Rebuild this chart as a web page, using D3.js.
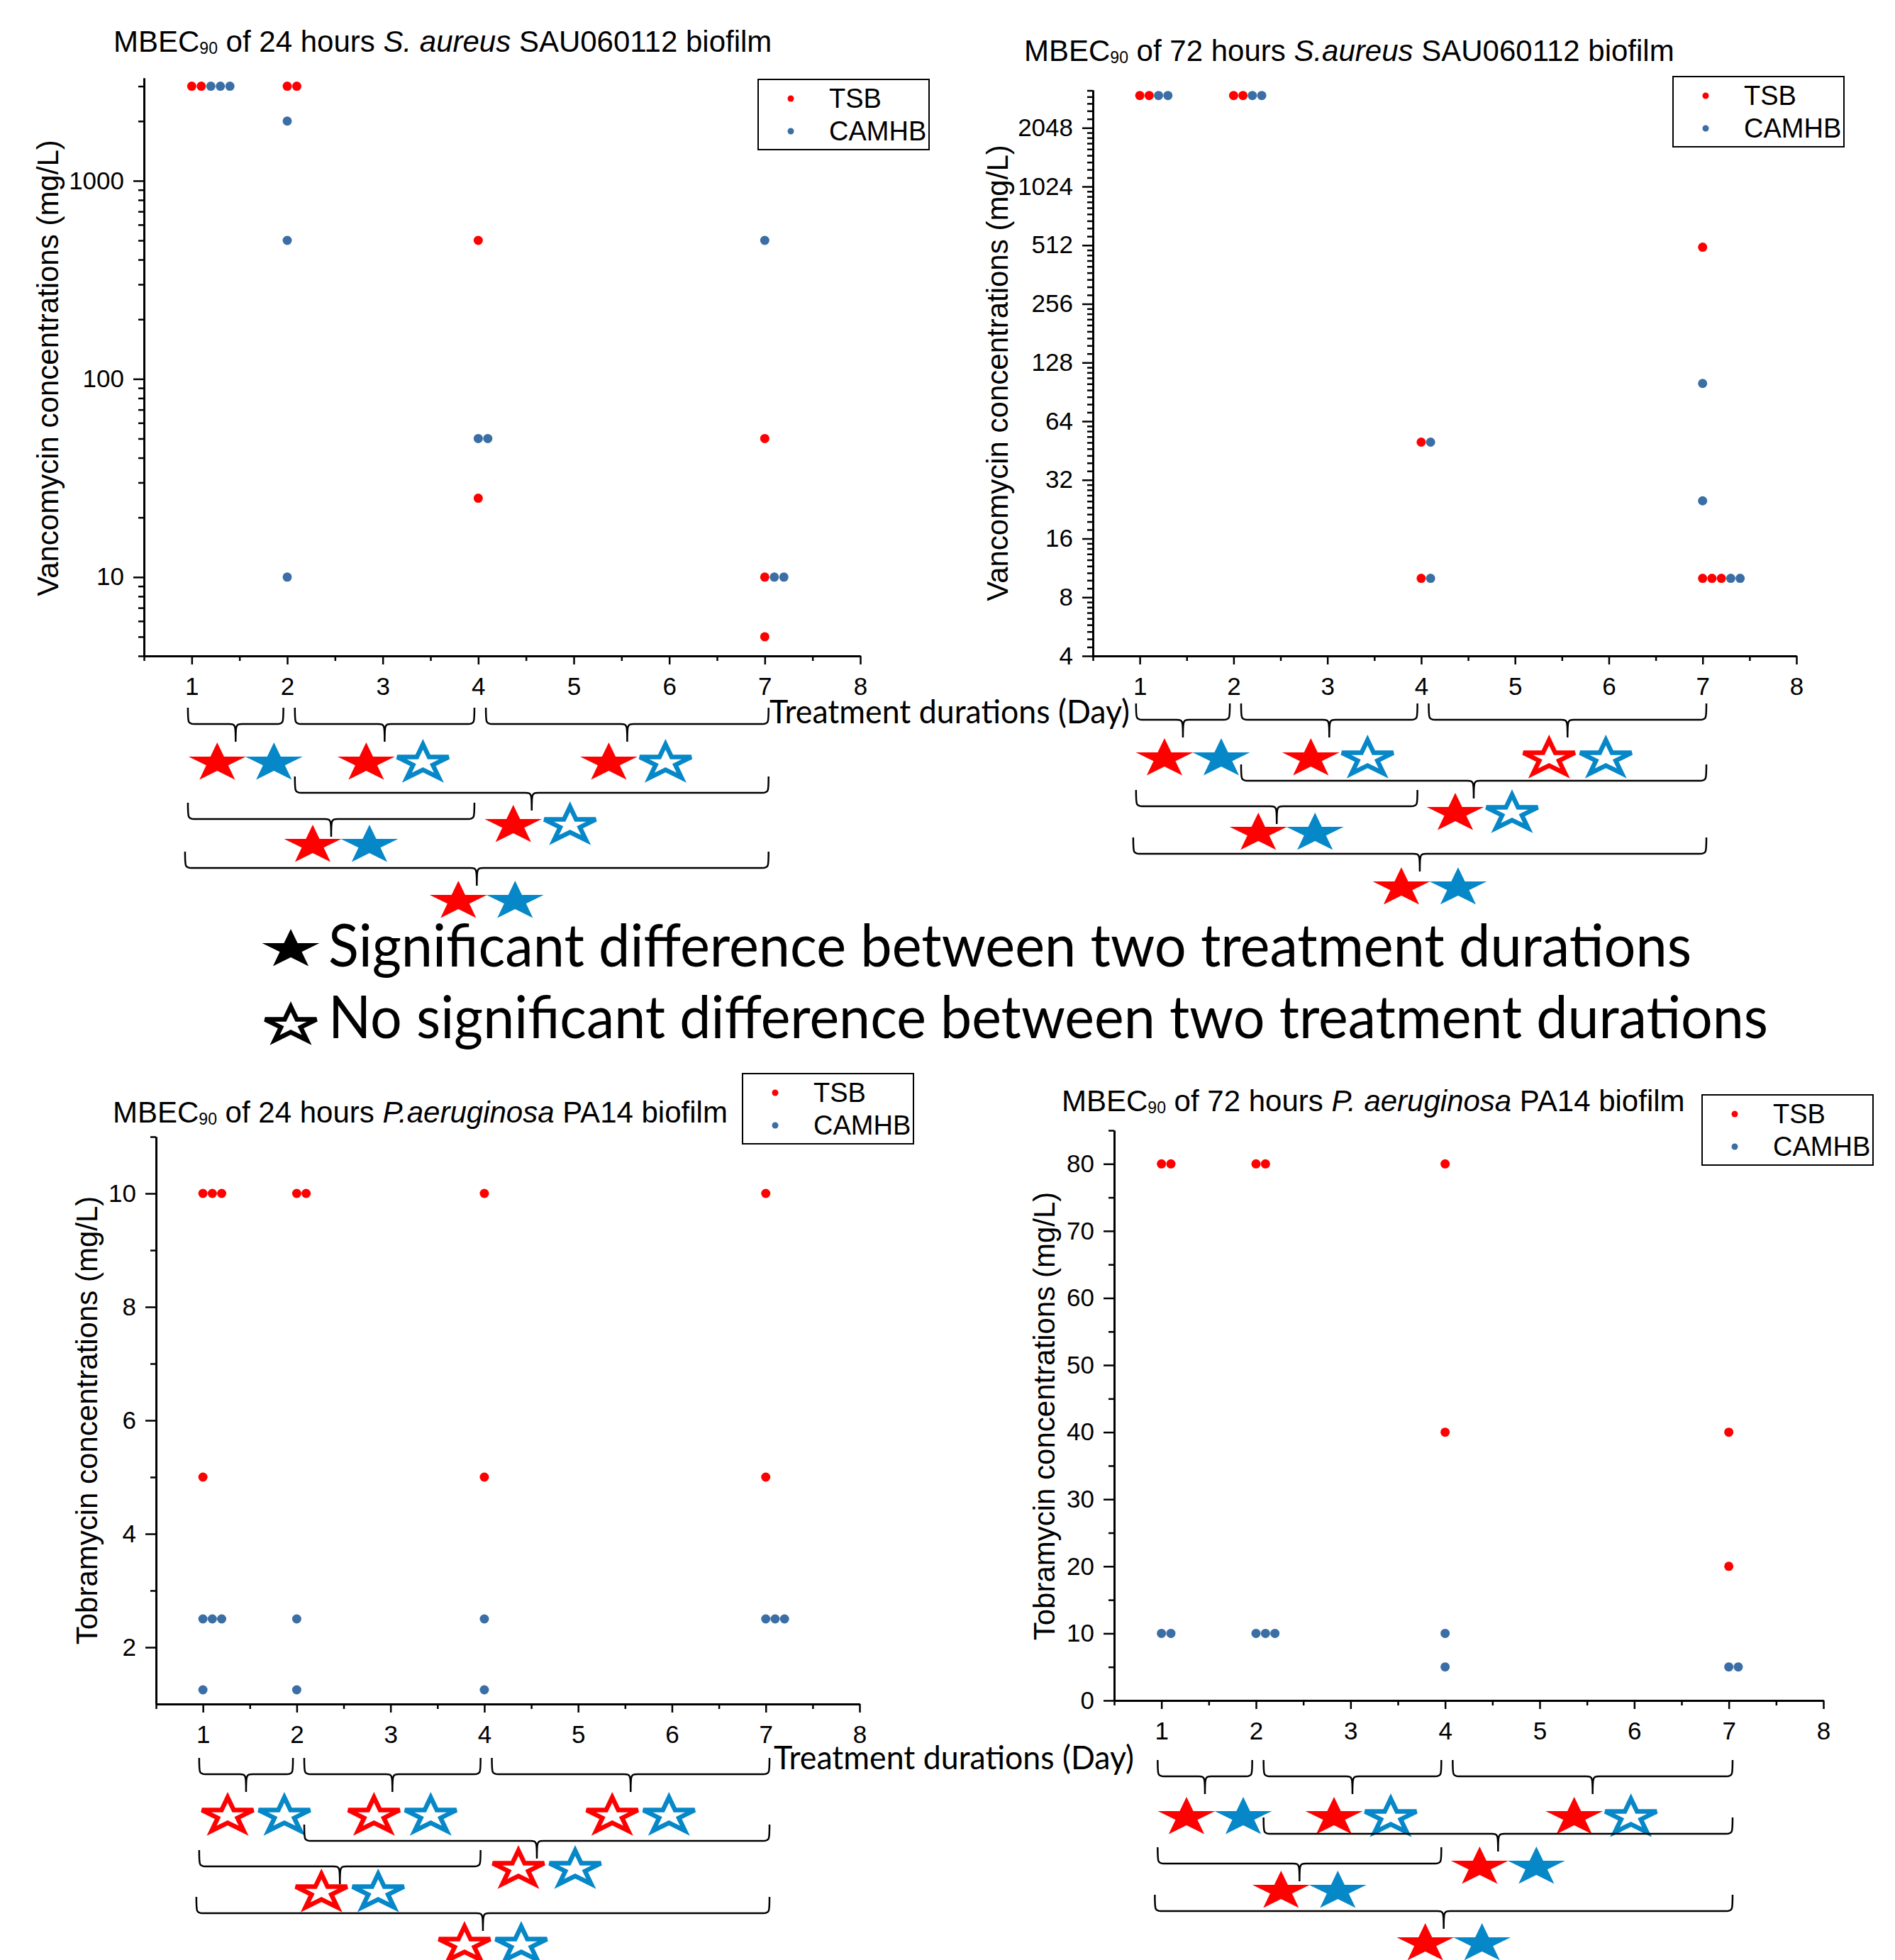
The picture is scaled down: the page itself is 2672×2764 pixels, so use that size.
<!DOCTYPE html>
<html>
<head>
<meta charset="utf-8">
<script src="https://cdn.jsdelivr.net/npm/d3@7"></script>
<style>
body { margin: 0; background: #fff; }
text { font-family: "Liberation Sans", Arial, sans-serif; fill: #000; white-space: pre; }
.cal { font-family: Lato, "Open Sans", sans-serif; }
</style>
</head>
<body>
<script>
// values: [treatment day (+0.1 per repeated point), concentration mg/L]
var saTsb24 = [[1,3000],[1.1,3000],[2,3000],[2.1,3000],[4,500],[4,25],[7,50],[7,10],[7,5]];
var saCamhb24 = [[1.2,3000],[1.3,3000],[1.4,3000],[2,2000],[2,500],[2,10],[4,50],[4.1,50],[7,500],[7.1,10],[7.2,10]];

var saTsb72 = [[1,3000],[1.1,3000],[2,3000],[2.1,3000],[4,50],[4,10],[7,500],[7,10],[7.1,10],[7.2,10]];
var saCamhb72 = [[1.2,3000],[1.3,3000],[2.2,3000],[2.3,3000],[4.1,50],[4.1,10],[7,100],[7,25],[7.3,10],[7.4,10]];

var paTsb24 = [[1,10],[1.1,10],[1.2,10],[1,5],[2,10],[2.1,10],[4,10],[4,5],[7,10],[7,5]];
var paCamhb24 = [[1,2.5],[1.1,2.5],[1.2,2.5],[1,1.25],[2,2.5],[2,1.25],[4,2.5],[4,1.25],[7,2.5],[7.1,2.5],[7.2,2.5]];

var paTsb72 = [[1,80],[1.1,80],[2,80],[2.1,80],[4,80],[4,40],[7,40],[7,20]];
var paCamhb72 = [[1,10],[1.1,10],[2,10],[2.1,10],[2.2,10],[4,10],[4,5],[7,5],[7.1,5]];

// tick labels
var dayTicks = [1,2,3,4,5,6,7,8];
var dayMinor = [0.5,1.5,2.5,3.5,4.5,5.5,6.5,7.5];
var vancoTicks24 = [10,100,1000];
var vancoTicks72 = [4,8,16,32,64,128,256,512,1024,2048];
var tobraTicks24 = [2,4,6,8,10];
var tobraMinor24 = [3,5,7,9,11];
var tobraTicks72 = [0,10,20,30,40,50,60,70,80];
var tobraMinor72 = [5,15,25,35,45,55,65,75,85];

// comparisons: [from day, to day, bracket row, TSB significant, CAMHB significant]
var saComp24 = [[1,2,0,true,true],[2,4,0,true,false],[4,7,0,true,false],[2,7,1,true,false],[1,4,2,true,true],[1,7,3,true,true]];
var saComp72 = [[1,2,0,true,true],[2,4,0,true,false],[4,7,0,false,false],[2,7,1,true,false],[1,4,2,true,true],[1,7,3,true,true]];
var paComp24 = [[1,2,0,false,false],[2,4,0,false,false],[4,7,0,false,false],[2,7,1,false,false],[1,4,2,false,false],[1,7,3,false,false]];
var paComp72 = [[1,2,0,true,true],[2,4,0,true,false],[4,7,0,true,false],[2,7,1,true,true],[1,4,2,true,true],[1,7,3,true,true]];

var seriesNames = ["TSB", "CAMHB"];

var dotRed = "#f00", dotBlue = "#3a6ea5";
var starRed = "#ff0000", starBlue = "#0687c8";

var W = 2672, H = 2764;
var svg = d3.select("body").append("svg")
    .attr("width", W)
    .attr("height", H);

// log minor ticks
function minor10(lo, hi) {
    var out = [];
    [1, 10, 100, 1000].forEach(function (p) {
        for (var d = 2; d <= 9; d++) {
            var v = d * p;
            if (v >= lo && v <= hi) out.push(v);
        }
    });
    return out;
}
function minor2(lo, hi) {
    var out = [];
    for (var b = 4; b <= 2048; b *= 2) {
        for (var k = 1; k <= 8; k++) {
            var v = b * (1 + k / 9);
            if (v >= lo && v <= hi) out.push(v);
        }
    }
    return out;
}

// star path, already stretched sideways like the original
function starPath(R, sx) {
    var pts = [];
    for (var i = 0; i < 10; i++) {
        var a = -Math.PI / 2 + i * Math.PI / 5;
        var r = (i % 2 === 0) ? R : R * 0.382;
        pts.push([Math.cos(a) * r * sx, Math.sin(a) * r + R * 0.1]);
    }
    return "M" + pts.map(function (p) { return p[0].toFixed(1) + "," + p[1].toFixed(1); }).join("L") + "Z";
}
var STAR_R = 29, STAR_SX = 1.47;

function drawStar(g, cx, cy, color, filled) {
    if (filled) {
        g.append("path")
            .attr("d", starPath(STAR_R, STAR_SX))
            .attr("transform", "translate(" + cx + "," + cy + ")")
            .attr("fill", color);
    } else {
        g.append("path")
            .attr("d", starPath(STAR_R - 3, STAR_SX))
            .attr("transform", "translate(" + cx + "," + cy + ")")
            .attr("fill", "#fff")
            .attr("stroke", color)
            .attr("stroke-width", 6.5)
            .attr("stroke-linejoin", "miter");
    }
}

function bracePath(x0, x1, yH, up, down) {
    var xm = (x0 + x1) / 2, c = 9;
    return "M" + x0 + "," + (yH - up) +
        "C" + x0 + "," + (yH - 2) + " " + x0 + "," + yH + " " + (x0 + c) + "," + yH +
        "L" + (xm - c) + "," + yH +
        "C" + xm + "," + yH + " " + xm + "," + (yH + 2) + " " + xm + "," + (yH + down) +
        "C" + xm + "," + (yH + 2) + " " + xm + "," + yH + " " + (xm + c) + "," + yH +
        "L" + (x1 - c) + "," + yH +
        "C" + x1 + "," + yH + " " + x1 + "," + (yH - 2) + " " + x1 + "," + (yH - up);
}

function drawPanel(p) {
    var g = svg.append("g");

    var x = d3.scaleLinear().domain([0.5, 8]).range([p.left, p.right]);
    var y;
    if (p.log) {
        y = d3.scaleLog().base(p.log).domain(p.yDomain).range([p.bottom, p.top]);
    } else {
        y = d3.scaleLinear().domain(p.yDomain).range([p.bottom, p.top]);
    }

    // x axis
    var xMinorG = g.append("g").attr("transform", "translate(0," + p.bottom + ")")
        .call(d3.axisBottom(x).tickValues(dayMinor).tickSize(7).tickSizeOuter(0).tickFormat(""));
    var xAxisG = g.append("g").attr("transform", "translate(0," + p.bottom + ")")
        .call(d3.axisBottom(x).tickValues(dayTicks).tickSize(12).tickSizeOuter(0).tickPadding(18));

    // y axis
    var yMinorG = g.append("g").attr("transform", "translate(" + p.left + ",0)")
        .call(d3.axisLeft(y).tickValues(p.yMinor).tickSize(8).tickSizeOuter(0).tickFormat(""));
    var yAxisG = g.append("g").attr("transform", "translate(" + p.left + ",0)")
        .call(d3.axisLeft(y).tickValues(p.yTicks).tickSize(15).tickSizeOuter(0).tickPadding(13)
            .tickFormat(d3.format("d")));

    [xMinorG, xAxisG, yMinorG, yAxisG].forEach(function (a) {
        a.selectAll("path.domain").attr("stroke", "#000").attr("stroke-width", 3);
        a.selectAll(".tick line").attr("stroke", "#000").attr("stroke-width", 2.5);
        a.selectAll(".tick text").attr("font-size", 35).attr("fill", "#000")
            .attr("font-family", "'Liberation Sans', Arial, sans-serif");
    });

    // points
    g.selectAll("circle.tsb").data(p.tsb).enter().append("circle")
        .attr("class", "tsb")
        .attr("cx", function (d) { return x(d[0]); })
        .attr("cy", function (d) { return y(d[1]); })
        .attr("r", 6.5)
        .attr("fill", dotRed);
    g.selectAll("circle.camhb").data(p.camhb).enter().append("circle")
        .attr("class", "camhb")
        .attr("cx", function (d) { return x(d[0]); })
        .attr("cy", function (d) { return y(d[1]); })
        .attr("r", 6.5)
        .attr("fill", dotBlue);

    // title
    var t = g.append("text").attr("x", p.titleX).attr("y", p.titleY).attr("font-size", 42);
    t.append("tspan").text("MBEC");
    t.append("tspan").attr("font-size", 23).attr("dy", 3).text("90");
    t.append("tspan").attr("dy", -3).text(p.title[0]);
    t.append("tspan").attr("font-style", "italic").text(p.title[1]);
    t.append("tspan").text(p.title[2]);

    // y label
    g.append("text")
        .attr("transform", "translate(" + p.labelX + "," + p.labelY + ") rotate(-90)")
        .attr("text-anchor", "middle")
        .attr("font-size", 42)
        .text(p.yLabel);

    // legend
    var lg = g.append("g").attr("transform", "translate(" + p.legend[0] + "," + p.legend[1] + ")");
    lg.append("rect").attr("x", 0).attr("y", 0).attr("width", 241).attr("height", 99)
        .attr("fill", "#fff").attr("stroke", "#000").attr("stroke-width", 2);
    seriesNames.forEach(function (name, i) {
        lg.append("circle").attr("cx", 46).attr("cy", 27 + i * 46).attr("r", 4.5)
            .attr("fill", i === 0 ? dotRed : dotBlue);
        lg.append("text").attr("x", 100).attr("y", 40 + i * 46).attr("font-size", 38).text(name);
    });

    if (p.xLabel) {
        g.append("text").attr("class", "cal")
            .attr("x", p.xLabel[0]).attr("y", p.xLabel[1])
            .attr("font-size", 47)
            .attr("textLength", 508).attr("lengthAdjust", "spacingAndGlyphs")
            .text("Treatment durations (Day)");
    }

    // brackets and stars
    var bg = g.append("g");
    p.comp.forEach(function (c) {
        var from = c[0], to = c[1], row = c[2];
        var x0 = x(from === 1 ? from - 0.04 : from + 0.08);
        var x1 = x(to === 7 ? to + 0.04 : to - 0.04);
        if (row === 3) x0 = x(from - 0.07);
        var yH = p.bottom + p.rowY[row];
        bg.append("path")
            .attr("d", bracePath(x0, x1, yH, 23, 25))
            .attr("fill", "none")
            .attr("stroke", "#000")
            .attr("stroke-width", 2.5);
        var xm = (x0 + x1) / 2;
        var sy = p.bottom + p.starY[row];
        drawStar(bg, xm - 26, sy, starRed, c[3]);
        drawStar(bg, xm + 54, sy, starBlue, c[4]);
    });
}

var panels = [
    {
        left: 203, right: 1213, top: 110, bottom: 925,
        log: 10, yDomain: [4, 3300], yTicks: vancoTicks24, yMinor: minor10(4, 3300),
        tsb: saTsb24, camhb: saCamhb24,
        title: [" of 24 hours ", "S. aureus", " SAU060112 biofilm"], titleX: 160, titleY: 73,
        yLabel: "Vancomycin concentrations (mg/L)", labelX: 82, labelY: 519,
        legend: [1069, 112], xLabel: [1085, 1020],
        comp: saComp24, rowY: [96, 193, 230, 299], starY: [148, 236, 264, 343]
    },
    {
        left: 1541, right: 2533, top: 127, bottom: 925,
        log: 2, yDomain: [4, 3200], yTicks: vancoTicks72, yMinor: minor2(4, 3200),
        tsb: saTsb72, camhb: saCamhb72,
        title: [" of 72 hours ", "S.aureus", " SAU060112 biofilm"], titleX: 1444, titleY: 86,
        yLabel: "Vancomycin concentrations (mg/L)", labelX: 1421, labelY: 526,
        legend: [2359, 108], xLabel: null,
        comp: saComp72, rowY: [90, 176, 212, 279], starY: [142, 219, 247, 324]
    },
    {
        left: 220, right: 1212, top: 1603, bottom: 2403,
        log: 0, yDomain: [1, 11], yTicks: tobraTicks24, yMinor: tobraMinor24,
        tsb: paTsb24, camhb: paCamhb24,
        title: [" of 24 hours ", "P.aeruginosa", " PA14 biofilm"], titleX: 159, titleY: 1583,
        yLabel: "Tobramycin concentrations (mg/L)", labelX: 137, labelY: 2003,
        legend: [1047, 1514], xLabel: [1091, 2495],
        comp: paComp24, rowY: [99, 193, 229, 295], starY: [155, 230, 263, 337]
    },
    {
        left: 1571, right: 2571, top: 1594, bottom: 2398,
        log: 0, yDomain: [0, 85], yTicks: tobraTicks72, yMinor: tobraMinor72,
        tsb: paTsb72, camhb: paCamhb72,
        title: [" of 72 hours ", "P. aeruginosa", " PA14 biofilm"], titleX: 1497, titleY: 1567,
        yLabel: "Tobramycin concentrations (mg/L)", labelX: 1487, labelY: 1997,
        legend: [2400, 1544], xLabel: null,
        comp: paComp72, rowY: [107, 188, 230, 297], starY: [162, 232, 266, 340]
    }
];

panels.forEach(drawPanel);

// star key in the middle
var key = svg.append("g");
drawStar(key, 410, 1336, "#000", true);
key.append("text").attr("class", "cal")
    .attr("x", 463).attr("y", 1363).attr("font-size", 83)
    .attr("textLength", 1922).attr("lengthAdjust", "spacingAndGlyphs")
    .text("Significant difference between two treatment durations");
drawStar(key, 410, 1443, "#000", false);
key.append("text").attr("class", "cal")
    .attr("x", 463).attr("y", 1464).attr("font-size", 83)
    .attr("textLength", 2030).attr("lengthAdjust", "spacingAndGlyphs")
    .text("No significant difference between two treatment durations");
</script>
</body>
</html>
